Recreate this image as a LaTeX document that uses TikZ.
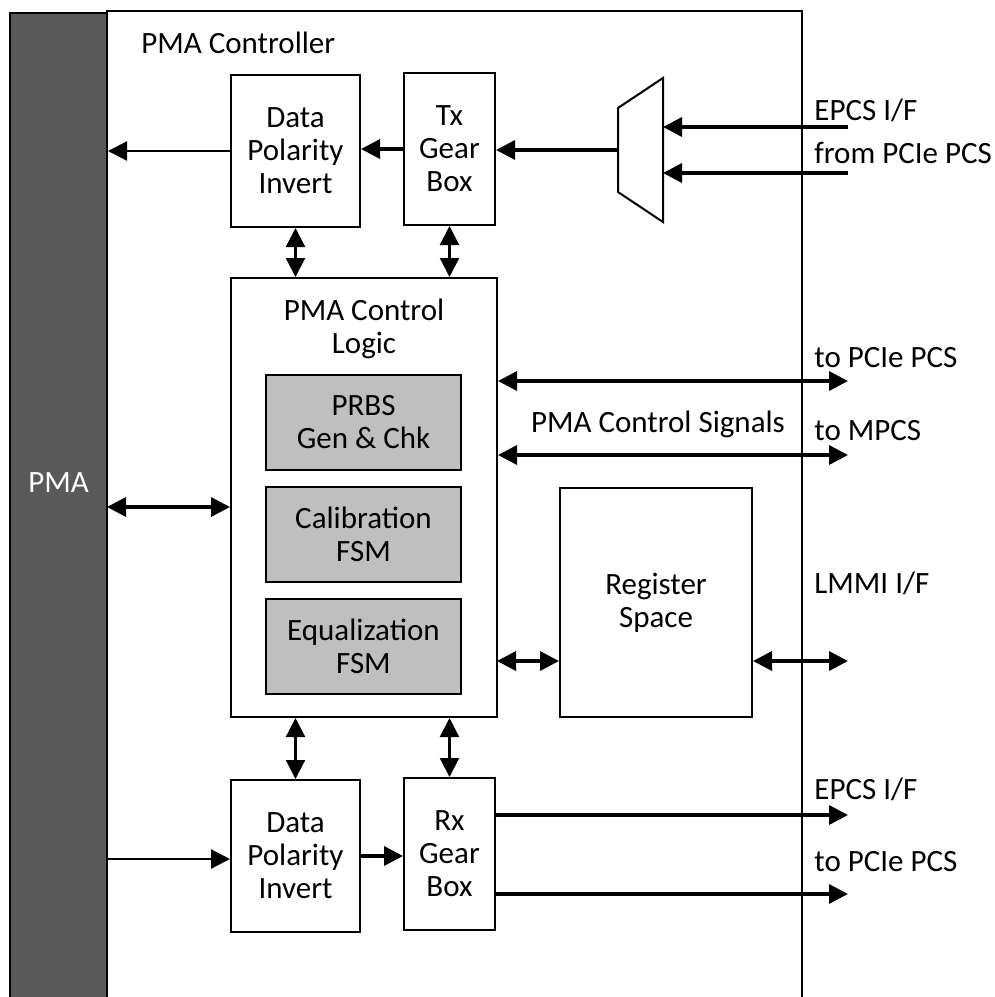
\documentclass[tikz,border=0pt]{standalone}
\usepackage{fontspec}
\setmainfont{Carlito}
\usepackage{tikz}
\usetikzlibrary{positioning}
\usetikzlibrary{arrows.meta}
\definecolor{pmagray}{HTML}{595959}
\definecolor{subgray}{HTML}{BFBFBF}

\begin{document}
\begin{tikzpicture}[x=0.5pt, y=-0.5pt,
every node/.style={font=\fontsize{15.5}{16.5}\selectfont, align=center},
blockbox/.style={rectangle, draw, line width=1pt, fill=white, inner sep=0pt},
subbox/.style={blockbox, fill=subgray, minimum width=97.5pt, minimum height=47.5pt},
sidelabel/.style={anchor=west, inner sep=0pt},
arr/.style={-{Triangle[length=9.5pt,width=9.5pt]}, line width=1.1pt},
biarr/.style={{Triangle[length=9.5pt,width=9.5pt]}-{Triangle[length=9.5pt,width=9.5pt]}, line width=1.1pt},
thickarr/.style={arr, line width=1.7pt},
thickbiarr/.style={biarr, line width=1.7pt},
]
\path[use as bounding box, clip] (0,0) rectangle (995,997);

%Frame
\draw[line width=1pt] (107,11) rectangle (802,1020);
\node[sidelabel] (title) at (141,43) {PMA Controller};
\node[blockbox, fill=pmagray, minimum width=48.5pt, minimum height=500pt] (pma) at (58.5,513) {};
\node[text=white] (pmatxt) at (58.5,483) {PMA};

%Nodes
\node[blockbox, minimum width=64.5pt, minimum height=76pt] (dpitop) at (295.5,151) {Data\\Polarity\\Invert};
\node[blockbox, minimum width=45.5pt, minimum height=76pt] (txgb) at (449.5,149) {Tx\\Gear\\Box};
\node[blockbox, minimum width=133pt, minimum height=219.5pt] (ctrl) at (364,497.5) {};
\node (ctrltxt) at (364,329) {PMA Control\\Logic};
\node[subbox] (prbs) at (363.5,422.5) {PRBS\\Gen \& Chk};
\node[subbox] (calib) at (363.5,534.5) {Calibration\\FSM};
\node[subbox] (equal) at (363.5,646.5) {Equalization\\FSM};
\node[blockbox, minimum width=96pt, minimum height=114.5pt] (regs) at (656,602.5) {Register\\Space};
\node[blockbox, minimum width=64.5pt, minimum height=76pt] (dpibot) at (295.5,856) {Data\\Polarity\\Invert};
\node[blockbox, minimum width=45.5pt, minimum height=76pt] (rxgb) at (449.5,854) {Rx\\Gear\\Box};

%Mux
\draw[line width=1pt] (618,108) -- (663,78) -- (663,222) -- (618,192) -- cycle;
\coordinate (muxl) at (618,150);
\coordinate (muxr) at (663,150);

%Ports
\coordinate (epcsin) at (848,127);
\coordinate (pciein) at (848,173);
\coordinate (pcieio) at (848,381);
\coordinate (mpcsio) at (848,455);
\coordinate (lmmiio) at (848,661);
\coordinate (epcsout) at (848,815);
\coordinate (pcieout) at (848,894);
\coordinate (regin) at (497,661);
\coordinate (pmaio) at (107,507);
\coordinate (pmain) at (107,859);

%Labels
\node[sidelabel] (lepcsin) at (814,110) {EPCS I/F};
\node[sidelabel] (lpciein) at (814,153) {from PCIe PCS};
\node[sidelabel] (lpcieio) at (814,358) {to PCIe PCS};
\node[sidelabel] (lmpcsio) at (814,431) {to MPCS};
\node (lsignals) at (658,424) {PMA Control Signals};
\node[sidelabel] (llmmiio) at (814,583) {LMMI I/F};
\node[sidelabel] (lepcsout) at (814,789) {EPCS I/F};
\node[sidelabel] (lpcieout) at (814,862) {to PCIe PCS};

%Lines
\draw[thickarr] (epcsin) -- (epcsin -| muxr);
\draw[thickarr] (pciein) -- (pciein -| muxr);
\draw[thickarr] (muxl) -- (muxl -| txgb.east);
\draw[thickarr] (txgb.west) -- (txgb.west -| dpitop.east);
\draw[arr] (dpitop.west) -- (dpitop.west -| pma.east);
\draw[biarr] (dpitop.south) -- (dpitop.south |- ctrl.north);
\draw[biarr] (txgb.south) -- (txgb.south |- ctrl.north);
\draw[thickbiarr] (pcieio -| ctrl.east) -- (pcieio);
\draw[thickbiarr] (mpcsio -| ctrl.east) -- (mpcsio);
\draw[thickbiarr] (pmaio) -- (pmaio -| ctrl.west);
\draw[thickbiarr] (regin) -- (regin -| regs.west);
\draw[thickbiarr] (lmmiio -| regs.east) -- (lmmiio);
\draw[biarr] (ctrl.south -| dpibot.north) -- (dpibot.north);
\draw[biarr] (ctrl.south -| rxgb.north) -- (rxgb.north);
\draw[arr] (pmain) -- (pmain -| dpibot.west);
\draw[thickarr] (dpibot.east) -- (dpibot.east -| rxgb.west);
\draw[thickarr] (epcsout -| rxgb.east) -- (epcsout);
\draw[thickarr] (pcieout -| rxgb.east) -- (pcieout);
\end{tikzpicture}
\end{document}
